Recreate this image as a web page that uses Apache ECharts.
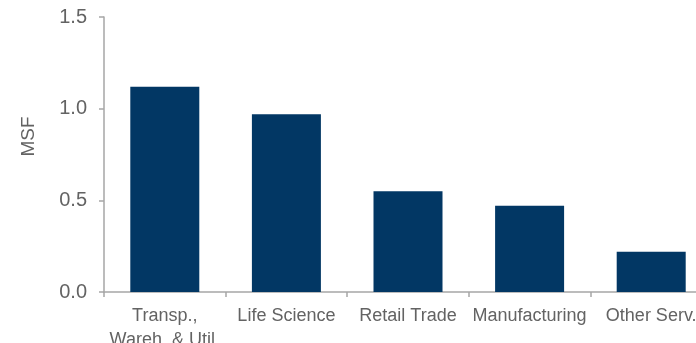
<!DOCTYPE html>
<html><head><meta charset="utf-8">
<script src="https://cdn.jsdelivr.net/npm/echarts@6/dist/echarts.min.js"></script>
<style>html,body{margin:0;padding:0;background:#fff;overflow:hidden}#c{width:712px;height:343px}</style>
</head><body><div id="c"></div>
<script>
const categories = ['Transp.,\nWareh. & Util.', 'Life Science', 'Retail Trade', 'Manufacturing', 'Other Serv.'];
const values = [1.12, 0.97, 0.55, 0.47, 0.22];
const yTicks = [0, 0.5, 1.0, 1.5];
const chart = echarts.init(document.getElementById('c'), null, {renderer: 'canvas'});
const txt = '#636363', axc = '#a6a6a6';
chart.setOption({
  animation: false,
  grid: {left: 104, top: 17, width: 608, height: 275, containLabel: false, outerBoundsMode: 'none'},
  xAxis: {
    type: 'category', data: categories,
    axisLine: {lineStyle: {color: axc, width: 1.5}},
    axisTick: {show: true, length: 5, lineStyle: {color: axc, width: 1.5}},
    axisLabel: {color: txt, fontSize: 18, fontFamily: 'Liberation Sans', margin: 12, lineHeight: 24, interval: 0}
  },
  yAxis: {
    type: 'value', min: 0, max: 1.5, interval: 0.5,
    name: 'MSF', nameLocation: 'middle', nameGap: 66, nameRotate: 90,
    nameTextStyle: {color: txt, fontSize: 19, fontFamily: 'Liberation Sans', padding: [0, 0, 0, 36]},
    axisLine: {show: true, lineStyle: {color: axc, width: 1.5}},
    axisTick: {show: true, length: 5, lineStyle: {color: axc, width: 1.5}},
    splitLine: {show: false},
    axisLabel: {color: txt, fontSize: 20, fontFamily: 'Liberation Sans', margin: 17,
      formatter: v => yTicks.includes(v) ? v.toFixed(1) : ''}
  },
  series: [{type: 'bar', data: values, barWidth: 69, itemStyle: {color: '#023764'}}]
});
</script></body></html>
